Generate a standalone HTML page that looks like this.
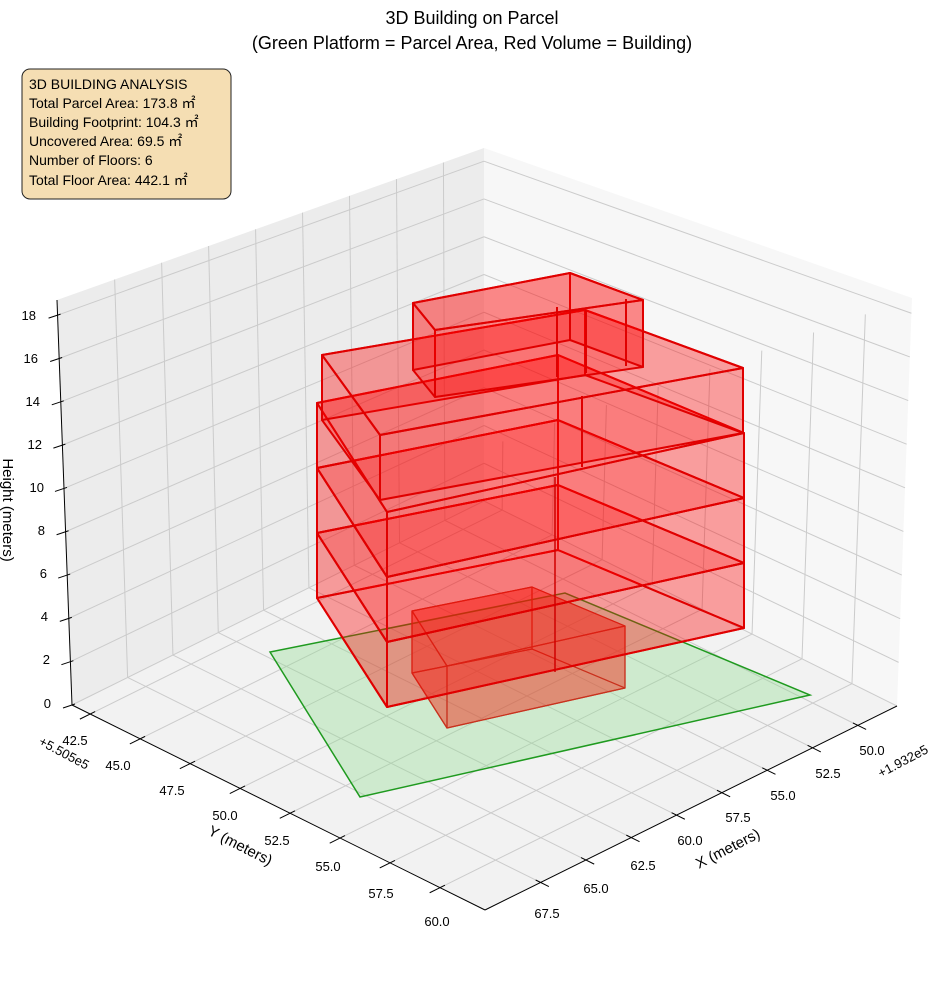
<!DOCTYPE html>
<html><head><meta charset="utf-8"><style>
html,body{margin:0;padding:0;background:#fff;}
svg{display:block;font-family:"Liberation Sans",sans-serif;}
</style></head><body>
<svg id="s" width="944" height="992" viewBox="0 0 944 992" xmlns="http://www.w3.org/2000/svg">
<g id="panes"></g>
<g id="grid"></g>
<g id="axes"></g>
<g id="bld"></g>
<g font-size="18" text-anchor="middle" fill="#000">
<text x="472" y="24">3D Building on Parcel</text>
<text x="472" y="49">(Green Platform = Parcel Area, Red Volume = Building)</text>
</g>
<rect x="22" y="69" width="209" height="130" rx="8" ry="8" fill="#f5deb3" stroke="#222" stroke-width="1"/>
<g font-size="14" fill="#000">
<text x="29" y="89">3D BUILDING ANALYSIS</text>
<text x="29" y="108">Total Parcel Area: 173.8 ㎡</text>
<text x="29" y="127">Building Footprint: 104.3 ㎡</text>
<text x="29" y="146">Uncovered Area: 69.5 ㎡</text>
<text x="29" y="165">Number of Floors: 6</text>
<text x="29" y="185">Total Floor Area: 442.1 ㎡</text>
</g>
<g font-size="13" fill="#000" text-anchor="end">
<text x="36" y="320">18</text>
<text x="38" y="363">16</text>
<text x="40" y="406">14</text>
<text x="42" y="449">12</text>
<text x="44" y="492">10</text>
<text x="45" y="535">8</text>
<text x="47" y="578">6</text>
<text x="48" y="621">4</text>
<text x="50" y="664">2</text>
<text x="51" y="708">0</text>
</g>
<g font-size="13" fill="#000" text-anchor="middle">
<text x="75" y="745">42.5</text>
<text x="118" y="770">45.0</text>
<text x="172" y="795">47.5</text>
<text x="225" y="820">50.0</text>
<text x="277" y="845">52.5</text>
<text x="328" y="871">55.0</text>
<text x="381" y="898">57.5</text>
<text x="437" y="926">60.0</text>
<text x="547" y="918">67.5</text>
<text x="596" y="893">65.0</text>
<text x="643" y="870">62.5</text>
<text x="690" y="845">60.0</text>
<text x="738" y="822">57.5</text>
<text x="783" y="800">55.0</text>
<text x="828" y="778">52.5</text>
<text x="872" y="755">50.0</text>
</g>
<text x="0" y="0" font-size="13" text-anchor="middle" transform="translate(62,757) rotate(28)">+5.505e5</text>
<text x="0" y="0" font-size="13" text-anchor="middle" transform="translate(905,765) rotate(-28)">+1.932e5</text>
<text x="0" y="0" font-size="15" text-anchor="middle" transform="translate(238,850) rotate(27)">Y (meters)</text>
<text x="0" y="0" font-size="15" text-anchor="middle" transform="translate(730,853) rotate(-27)">X (meters)</text>
<text x="0" y="0" font-size="15" text-anchor="middle" transform="translate(3,510) rotate(90)">Height (meters)</text>
</svg>
<script>
(function(){
var NS="http://www.w3.org/2000/svg";
function el(p,t,a){var e=document.createElementNS(NS,t);for(var k in a)e.setAttribute(k,a[k]);document.getElementById(p).appendChild(e);return e;}
function P(s,t){return [485-413*s+412*t,910-205*s-204*t];}
function pts(a){return a.map(function(p){return p[0].toFixed(1)+","+p[1].toFixed(1);}).join(" ");}
el("panes","polygon",{points:pts([[72,705],[484,501],[484,148],[57,300]]),fill:"#ececec"});
el("panes","polygon",{points:pts([[484,501],[897,706],[912,298],[484,148]]),fill:"#f7f7f7"});
el("panes","polygon",{points:pts([[485,910],[72,705],[484,501],[897,706]]),fill:"#f2f2f2"});
var g={stroke:"#cbcbcb","stroke-width":1,fill:"none"};
function line(p,a,b,st){var o={x1:a[0],y1:a[1],x2:b[0],y2:b[1]};for(var k in st)o[k]=st[k];el(p,"line",o);}
for(var k=0;k<8;k++){var t=0.905-0.11*k;
 line("grid",P(0,t),P(1,t),g);
 line("grid",[72+412*t,705-204*t],[57+427*t,300-152*t],g);
 line("axes",P(-0.02,t),P(0.012,t),{stroke:"#000","stroke-width":1});}
for(var j=0;j<8;j++){var s=0.956-0.121*j;
 line("grid",P(s,0),P(s,1),g);
 line("grid",[897-413*s,706-205*s],[912-428*s,298+150*s],g);
 line("axes",P(s,-0.025),P(s,0.012),{stroke:"#000","stroke-width":1});}
for(var z=0;z<=18;z+=2){var f=z/18.7;
 var L=[72-15*f,705-405*f],B=[484,501-353*f],R=[897+15*f,706-408*f];
 line("grid",L,B,g);line("grid",B,R,g);
 line("axes",[L[0]-9,L[1]+3],[L[0]+3,L[1]-1],{stroke:"#000","stroke-width":1});}
line("axes",[72,705],[485,910],{stroke:"#000","stroke-width":1});
line("axes",[485,910],[897,706],{stroke:"#000","stroke-width":1});
line("axes",[72,705],[57,300],{stroke:"#000","stroke-width":1});
el("bld","polygon",{points:pts([[270,652],[360,797],[810,695],[565,593]]),fill:"rgba(140,220,140,0.35)",stroke:"#1f9a1f","stroke-width":1.5});
function prism(base,h,fill,stroke,sw,nobottom){
 var top=base.map(function(p){return [p[0],p[1]-h];});
 var o={fill:fill,stroke:stroke,"stroke-width":sw,"stroke-linejoin":"round"};
 if(!nobottom)el("bld","polygon",Object.assign({points:pts(base)},o));
 for(var i=0;i<4;i++){var a=base[i],b=base[(i+1)%4];
  el("bld","polygon",Object.assign({points:pts([a,b,[b[0],b[1]-h],[a[0],a[1]-h]])},o));}
 el("bld","polygon",Object.assign({points:pts(top)},o));
}
var rf="rgba(255,0,0,0.2)";
prism([[412,673],[447,728],[625,688],[532,649]],62,"rgba(240,40,20,0.28)","#c8321e",1.2);
var bb=[[317,598],[387,707],[744,628],[558,550]];
for(var q=0;q<3;q++){prism(bb.map(function(p){return [p[0],p[1]-65*q];}),65,rf,"#e00000",2,q>0);}
prism([[322,420],[380,500],[743,433],[585,375]],65,rf,"#e00000",2,true);
prism([[413,370],[435,397],[643,367],[570,340]],67,"rgba(255,0,0,0.26)","#e00000",2,true);
var rs={stroke:"#e00000","stroke-width":2};
line("bld",[557,307],[557,377],rs);line("bld",[586,310],[586,373],rs);
line("bld",[626,299],[626,366],rs);line("bld",[582,396],[582,467],rs);
line("bld",[555,477],[555,672],{stroke:"#d00000","stroke-width":1.5});
})();
</script>
</body></html>
